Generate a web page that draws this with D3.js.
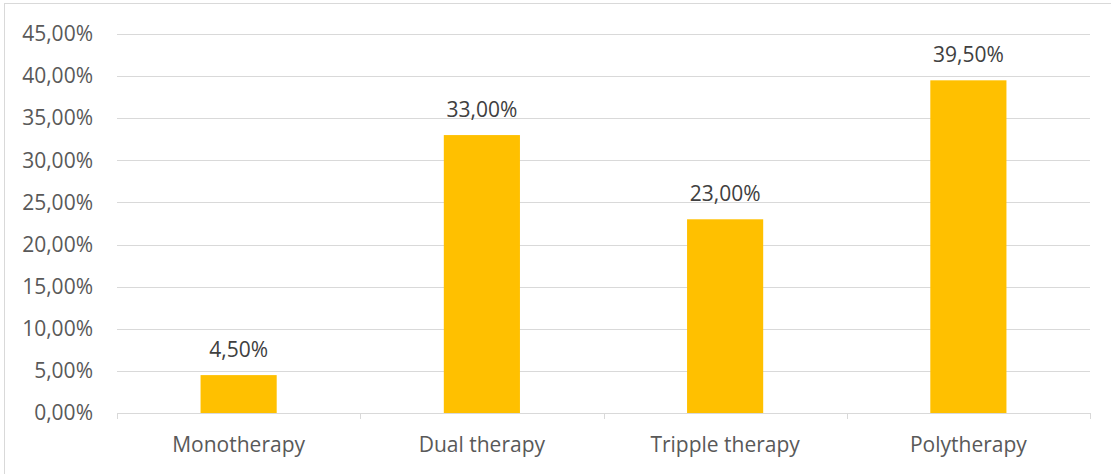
<!DOCTYPE html>
<html><head><meta charset="utf-8">
<script src="https://cdn.jsdelivr.net/npm/d3@7"></script>
<style>body{margin:0;background:#fff}svg{display:block}</style>
</head><body>
<script>
const categories = ["Monotherapy", "Dual therapy", "Tripple therapy", "Polytherapy"];
const values = [4.5, 33.0, 23.0, 39.5];
const yTicks = [0, 5, 10, 15, 20, 25, 30, 35, 40, 45];

const W = 1111, H = 474;
const m = {left: 117, right: 1090, top: 34, bottom: 413};
const fmt = v => v.toFixed(2).replace(".", ",") + "%";
const font = "Open Sans, sans-serif";
const fs = 21;
const textCol = "#595959";

const svg = d3.select("body").append("svg").attr("width", W).attr("height", H);
svg.append("rect").attr("x", 4.5).attr("y", 3.5).attr("width", 1120).attr("height", 490)
  .attr("fill", "#fff").attr("stroke", "#d9d9d9").attr("stroke-width", 1);

const x = d3.scaleBand().domain(categories).range([m.left, m.right]).paddingInner(0.687).paddingOuter(0.3435);
const y = d3.scaleLinear().domain([0, 45]).range([m.bottom, m.top]);

// gridlines
svg.append("g").selectAll("line").data(yTicks.filter(d => d > 0)).join("line")
  .attr("x1", m.left).attr("x2", m.right)
  .attr("y1", d => Math.round(y(d)) + 0.5).attr("y2", d => Math.round(y(d)) + 0.5)
  .attr("stroke", "#d9d9d9").attr("stroke-width", 1);

// y axis labels
const yAxis = d3.axisLeft(y).tickValues(yTicks).tickFormat(fmt).tickSize(0).tickPadding(24);
const gy = svg.append("g").attr("transform", `translate(${m.left},0)`).call(yAxis);
gy.select(".domain").remove();
gy.selectAll("text").attr("font-family", font).attr("font-size", fs).attr("fill", textCol);

// bars
svg.append("g").selectAll("rect").data(values).join("rect")
  .attr("x", (d, i) => x(categories[i])).attr("width", x.bandwidth())
  .attr("y", d => y(d)).attr("height", d => y(0) - y(d))
  .attr("fill", "#ffc000");

// x axis
const step = (m.right - m.left) / categories.length;
const gx = svg.append("g");
gx.append("line").attr("x1", m.left).attr("x2", m.right).attr("y1", m.bottom + 0.5).attr("y2", m.bottom + 0.5)
  .attr("stroke", "#d9d9d9");
gx.selectAll("line.tk").data(d3.range(categories.length + 1)).join("line").attr("class", "tk")
  .attr("x1", i => Math.round(m.left + i * step) + 0.5).attr("x2", i => Math.round(m.left + i * step) + 0.5)
  .attr("y1", m.bottom).attr("y2", m.bottom + 6).attr("stroke", "#d9d9d9");
gx.selectAll("text").data(categories).join("text")
  .attr("x", d => x(d) + x.bandwidth() / 2).attr("y", 452)
  .attr("text-anchor", "middle").attr("font-family", font).attr("font-size", fs).attr("fill", textCol)
  .text(d => d);

// data labels
svg.append("g").selectAll("text").data(values).join("text")
  .attr("x", (d, i) => x(categories[i]) + x.bandwidth() / 2).attr("y", d => y(d) - 18)
  .attr("text-anchor", "middle").attr("font-family", font).attr("font-size", fs).attr("fill", "#404040")
  .text(d => fmt(d));
</script>
</body></html>
